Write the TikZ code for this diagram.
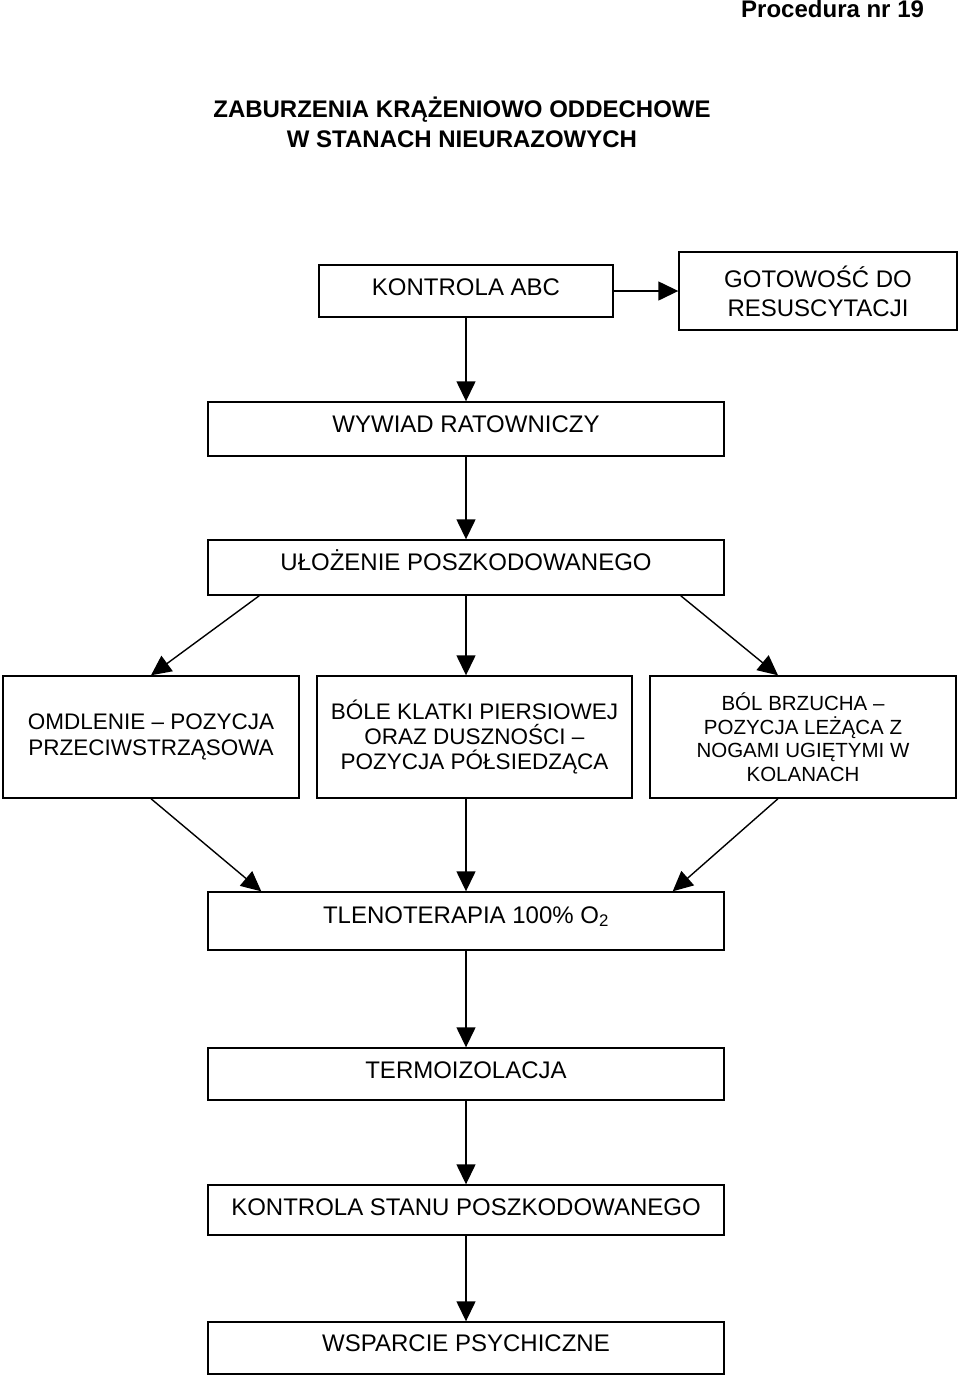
\documentclass[tikz,border=0pt]{standalone}
\usepackage{fontspec}
\setmainfont{Liberation Sans}
\usepackage{tikz}
\usetikzlibrary{arrows.meta}

\tikzset{
  box/.style={draw, line width=1.4pt, align=center, inner sep=0pt},
  onerow/.style={box, text height=17.5pt, text depth=9pt},
  headline/.style={font=\fontsize{24pt}{30pt}\selectfont\bfseries}
}

\begin{document}
\begin{tikzpicture}[x=1pt, y=-1pt, line width=1.4pt,
    font=\fontsize{24pt}{25pt}\selectfont,
    >={Triangle[length=20pt,width=19pt]}]
    \useasboundingbox (0,0) rectangle (960,1379);

    \node[headline, anchor=base east] (nr) at (928,17) {Procedura nr 19};
    \node[headline, anchor=base] (title1) at (462,117) {ZABURZENIA KRĄŻENIOWO ODDECHOWE};
    \node[headline, anchor=base] (title2) at (462,147) {W STANACH NIEURAZOWYCH};

    \node[onerow, minimum width=294pt, minimum height=52pt](abc) at (466, 291) {KONTROLA ABC};
    \node[box, minimum width=278pt, minimum height=78pt, font=\fontsize{24pt}{29pt}\selectfont](gotow) at (818, 291) {GOTOWOŚĆ DO\\RESUSCYTACJI};
    \node[onerow, minimum width=516pt, minimum height=54pt, text depth=10pt](wywiad) at (466, 429) {WYWIAD RATOWNICZY};
    \node[onerow, minimum width=516pt, minimum height=55pt, text depth=11pt](uloz) at (466, 567.5) {UŁOŻENIE POSZKODOWANEGO};

    \node[box, minimum width=296pt, minimum height=122pt, font=\fontsize{22.5pt}{26pt}\selectfont](omdl) at (151, 737) {OMDLENIE – POZYCJA\\PRZECIWSTRZĄSOWA};
    \node[box, minimum width=315pt, minimum height=122pt, font=\fontsize{22.5pt}{25pt}\selectfont](bole) at (474.5, 737) {BÓLE KLATKI PIERSIOWEJ\\ORAZ DUSZNOŚCI –\\POZYCJA PÓŁSIEDZĄCA};
    \node[box, minimum width=306pt, minimum height=122pt, font=\fontsize{20.5pt}{23.5pt}\selectfont](bol) at (803, 737) {BÓL BRZUCHA –\\POZYCJA LEŻĄCA Z\\NOGAMI UGIĘTYMI W\\KOLANACH};

    \node[onerow, minimum width=516pt, minimum height=58pt, text depth=13pt](tleno) at (466, 921) {TLENOTERAPIA 100\% O\textsubscript{2}};
    \node[onerow, minimum width=516pt, minimum height=52pt](termo) at (466, 1074) {TERMOIZOLACJA};
    \node[onerow, minimum width=516pt, minimum height=50pt, text depth=7pt](kontrola) at (466, 1210) {KONTROLA STANU POSZKODOWANEGO};
    \node[onerow, minimum width=516pt, minimum height=52pt, text depth=10pt](wsparcie) at (466, 1348) {WSPARCIE PSYCHICZNE};

    \draw[->] (abc) edge (gotow) (abc) edge (wywiad) (wywiad) edge (uloz)
      ([xshift=52pt]uloz.south west) edge (omdl.north)
      (uloz.south) edge (uloz.south |- bole.north)
      ([xshift=-44pt]uloz.south east) edge ([xshift=-25pt]bol.north)
      (omdl.south) edge ([xshift=54pt]tleno.north west)
      (bole.south -| tleno.north) edge (tleno.north)
      ([xshift=-25pt]bol.south) edge ([xshift=-52pt]tleno.north east)
      (tleno) edge (termo) (termo) edge (kontrola)
      (kontrola) to (wsparcie);
  \end{tikzpicture}
\end{document}
